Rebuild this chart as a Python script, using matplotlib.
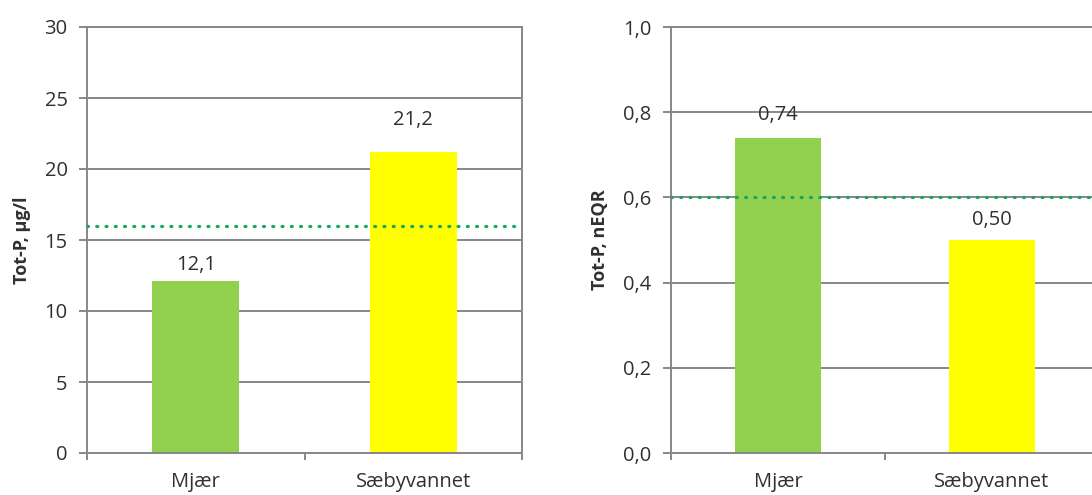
import matplotlib
matplotlib.use("Agg")
import matplotlib.pyplot as plt

lakes = ["Mjær", "Sæbyvannet"]
totp_ugl = [12.1, 21.2]
totp_neqr = [0.74, 0.50]
bar_colors = ["#92D050", "#FFFF00"]
limit_ugl = 16
limit_neqr = 0.6

plt.rcParams["font.family"] = ["Open Sans", "DejaVu Sans"]
GRID = "#878787"
TEXT = "#303030"

fig = plt.figure(figsize=(10.92, 4.95), dpi=100)
ax1 = fig.add_axes([87 / 1092, 1 - 453 / 495, 435 / 1092, 426 / 495])
ax2 = fig.add_axes([671 / 1092, 1 - 453 / 495, 428 / 1092, 426 / 495])


def draw(ax, values, limit, ymax, step, fmt, ylabel, labfmt, offsets):
    x = range(len(values))
    ax.set_xlim(-0.5, len(values) - 0.5)
    ax.set_ylim(0, ymax)
    ticks = [i * step for i in range(int(round(ymax / step)) + 1)]
    ax.set_yticks(ticks)
    ax.set_yticklabels([fmt(t) for t in ticks], fontsize=14.5, color=TEXT)
    for t in ticks[1:]:
        ax.axhline(t, color=GRID, lw=1.4, zorder=1)
    ax.bar(list(x), values, width=0.4, color=bar_colors, zorder=2)
    for i, v in enumerate(values):
        ax.annotate(labfmt(v), (i, v), xytext=(0, offsets[i]),
                    textcoords="offset points", ha="center", va="baseline",
                    fontsize=14.5, color=TEXT, zorder=3)
    ax.axhline(limit, color="#14A85A", lw=2.3, ls=(0, (0.3, 2.6)),
               dash_capstyle="round", zorder=4)
    ax.set_xticks(list(x))
    ax.set_xticklabels(lakes, fontsize=14.5, color=TEXT)
    ax.tick_params(axis="x", length=0, pad=14)
    ax.set_xticks([-0.5, 0.5, 1.5], minor=True)
    ax.tick_params(axis="x", which="minor", length=5, width=1.4, color=GRID)
    ax.tick_params(axis="y", length=6, width=1.4, color=GRID, pad=8)
    for s in ax.spines.values():
        s.set_color(GRID)
        s.set_linewidth(1.4)
    ax.set_ylabel(ylabel, fontsize=13, fontweight="bold", color=TEXT, labelpad=10)


draw(ax1, totp_ugl, limit_ugl, 30, 5, lambda t: f"{t:g}", "Tot-P, µg/l",
     lambda v: f"{v:.1f}".replace(".", ","), [8, 19.5])
draw(ax2, totp_neqr, limit_neqr, 1.0, 0.2, lambda t: f"{t:.1f}".replace(".", ","),
     "Tot-P, nEQR", lambda v: f"{v:.2f}".replace(".", ","), [13, 11])

fig.savefig("out.png", dpi=100)
